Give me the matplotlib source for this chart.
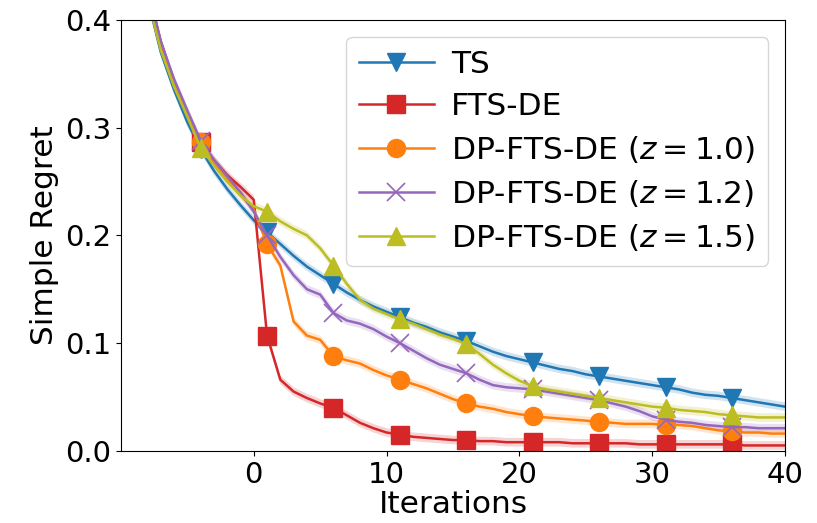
"""Simple regret vs. iterations for TS, FTS-DE and DP-FTS-DE variants."""

import matplotlib
matplotlib.use('Agg')
import matplotlib.pyplot as plt
import numpy as np

iterations = list(range(-10, 41))

ts = [0.600, 0.500, 0.420, 0.370, 0.335, 0.305, 0.280, 0.260, 0.243, 0.228,
      0.214, 0.203, 0.192, 0.181, 0.171, 0.163, 0.155, 0.147, 0.140, 0.134,
      0.129, 0.124, 0.119, 0.115, 0.110, 0.106, 0.102, 0.097, 0.092, 0.088,
      0.085, 0.082, 0.079, 0.076, 0.074, 0.071, 0.069, 0.067, 0.065, 0.063,
      0.061, 0.059, 0.057, 0.054, 0.052, 0.051, 0.049, 0.047, 0.045, 0.043,
      0.041]

fts_de = [0.610, 0.510, 0.430, 0.380, 0.343, 0.313, 0.287, 0.270, 0.256, 0.245,
          0.233, 0.107, 0.066, 0.055, 0.049, 0.044, 0.040, 0.033, 0.026, 0.021,
          0.017, 0.015, 0.013, 0.012, 0.011, 0.010, 0.010, 0.009, 0.009, 0.008,
          0.008, 0.008, 0.008, 0.008, 0.007, 0.007, 0.007, 0.007, 0.007, 0.006,
          0.006, 0.006, 0.006, 0.006, 0.006, 0.006, 0.006, 0.005, 0.005, 0.005,
          0.005]

dp_z10 = [0.610, 0.510, 0.430, 0.378, 0.342, 0.313, 0.287, 0.268, 0.252, 0.238,
          0.224, 0.192, 0.172, 0.120, 0.107, 0.103, 0.088, 0.084, 0.081, 0.075,
          0.070, 0.066, 0.062, 0.058, 0.053, 0.048, 0.044, 0.041, 0.039, 0.036,
          0.034, 0.032, 0.031, 0.030, 0.029, 0.028, 0.027, 0.026, 0.025, 0.025,
          0.025, 0.024, 0.024, 0.023, 0.021, 0.019, 0.018, 0.017, 0.017, 0.016,
          0.016]

dp_z12 = [0.610, 0.510, 0.430, 0.380, 0.345, 0.316, 0.288, 0.270, 0.255, 0.240,
          0.222, 0.200, 0.180, 0.163, 0.150, 0.145, 0.128, 0.121, 0.118, 0.113,
          0.106, 0.100, 0.093, 0.086, 0.080, 0.076, 0.072, 0.066, 0.061, 0.059,
          0.058, 0.057, 0.055, 0.053, 0.051, 0.049, 0.047, 0.044, 0.041, 0.037,
          0.032, 0.029, 0.027, 0.026, 0.024, 0.023, 0.022, 0.022, 0.021, 0.021,
          0.021]

dp_z15 = [0.600, 0.500, 0.420, 0.372, 0.338, 0.310, 0.281, 0.265, 0.250, 0.237,
          0.227, 0.222, 0.213, 0.206, 0.200, 0.188, 0.172, 0.155, 0.140, 0.132,
          0.127, 0.122, 0.118, 0.113, 0.108, 0.104, 0.099, 0.090, 0.080, 0.072,
          0.065, 0.060, 0.057, 0.055, 0.053, 0.051, 0.049, 0.047, 0.045, 0.043,
          0.041, 0.040, 0.038, 0.037, 0.036, 0.034, 0.033, 0.032, 0.031, 0.031,
          0.031]

labels = ['TS', 'FTS-DE', r'DP-FTS-DE ($z=1.0$)', r'DP-FTS-DE ($z=1.2$)',
          r'DP-FTS-DE ($z=1.5$)']
band = 0.004  # half-width of the shaded standard-error band

series = [ts, fts_de, dp_z10, dp_z12, dp_z15]
colors = ['tab:blue', 'tab:red', 'tab:orange', 'tab:purple', 'tab:olive']
markers = ['v', 's', 'o', 'x', '^']

fig = plt.figure(figsize=(8.17, 5.23), dpi=100)
ax = fig.add_axes([0.148, 0.138, 0.813, 0.824])

x = np.array(iterations)
for y, lab, c, m in zip(series, labels, colors, markers):
    y = np.array(y)
    ax.fill_between(x, y - band, y + band, color=c, alpha=0.2, linewidth=0)
    ax.plot(x, y, color=c, marker=m, markevery=(6, 5), markersize=13,
            markeredgewidth=1.2 if m == 'x' else 1.0, linewidth=1.8, label=lab)

ax.set_xlim(-10, 40)
ax.set_ylim(0, 0.4)
ax.set_xticks([0, 10, 20, 30, 40])
ax.set_yticks([0.0, 0.1, 0.2, 0.3, 0.4])
ax.tick_params(labelsize=21)
ax.set_xlabel('Iterations', fontsize=22.5, labelpad=1)
ax.set_ylabel('Simple Regret', fontsize=22.5)
ax.legend(fontsize=22.5, loc='upper right', bbox_to_anchor=(0.974, 0.96),
          borderaxespad=0, handlelength=2.4, handletextpad=0.55,
          labelspacing=0.42, borderpad=0.4)

fig.savefig('out.png', dpi=100)
plt.close()
